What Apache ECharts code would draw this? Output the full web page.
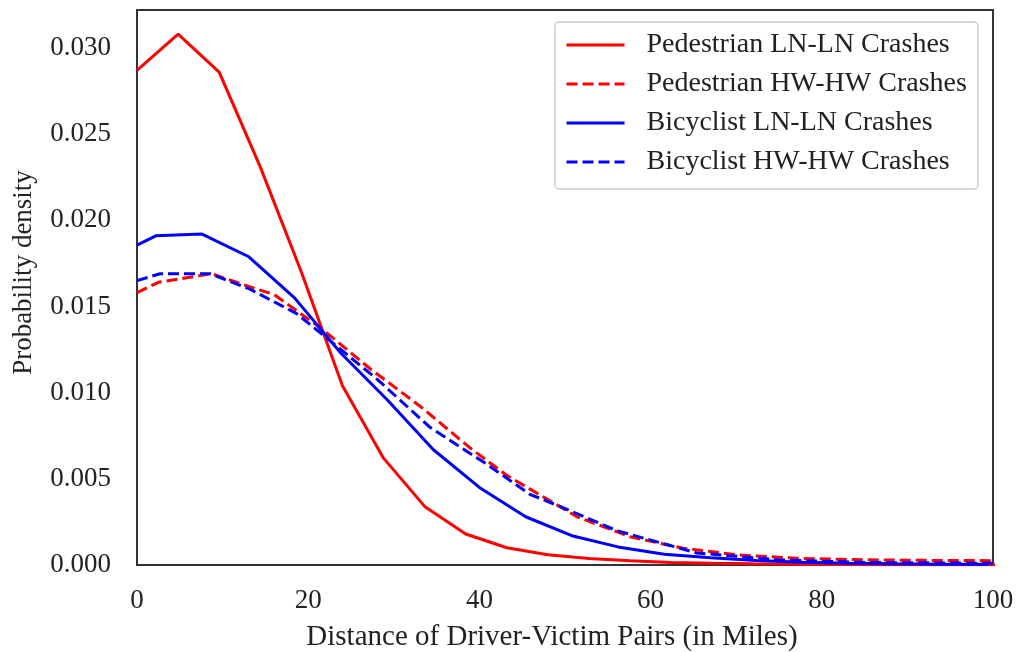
<!DOCTYPE html>
<html>
<head>
<meta charset="utf-8">
<script src="https://cdn.jsdelivr.net/npm/echarts@6/dist/echarts.min.js"></script>
<style>
  html, body { margin: 0; padding: 0; background: #fff; }
  #chart { width: 1016px; height: 652px; }
</style>
</head>
<body>
<div id="chart"></div>
<script>
// series names
var names = [
  "Pedestrian LN-LN Crashes",
  "Pedestrian HW-HW Crashes",
  "Bicyclist LN-LN Crashes",
  "Bicyclist HW-HW Crashes"
];

// Pedestrian LN-LN
var pedLnX = [0, 4.8, 9.6, 14.4, 19.2, 24, 28.8, 33.6, 38.4, 43.2, 48, 52.8, 57.6, 62.4, 67.2, 72, 76.8, 81.6, 86.4, 91.2, 96, 100.8];
var pedLnY = [0.0287, 0.0308, 0.0286, 0.0231, 0.0170, 0.0104, 0.0062, 0.0034, 0.0018, 0.0010, 0.0006, 0.00038, 0.00024, 0.00015, 0.0001, 0.00007, 0.00005, 0.00003, 0.00002, 0.00001, 0.00001, 0.00001];

// Pedestrian HW-HW
var pedHwX = [0, 2.5, 8.7, 13.4, 16, 21.6, 27.2, 33.1, 38.9, 43.2, 51.4, 57.6, 63.8, 70.4, 77.1, 85, 92, 100];
var pedHwY = [0.0158, 0.0164, 0.0169, 0.0161, 0.0157, 0.0137, 0.0114, 0.0092, 0.0068, 0.0052, 0.0028, 0.00164, 0.00097, 0.00058, 0.00039, 0.0003, 0.00027, 0.00025];

// Bicyclist LN-LN
var bicLnX = [0, 2.2, 7.6, 13.0, 18.4, 23.8, 29.2, 34.6, 40.0, 45.4, 50.8, 56.2, 61.6, 67.0, 72.4, 77.8, 83.2, 88.6, 94.0, 99.4];
var bicLnY = [0.01856, 0.0191, 0.0192, 0.0179, 0.0155, 0.0123, 0.0096, 0.0067, 0.0045, 0.0028, 0.0017, 0.00105, 0.00062, 0.00042, 0.00026, 0.00016, 0.0001, 0.00007, 0.00005, 0.00004];

// Bicyclist HW-HW
var bicHwX = [0, 2.7, 8.5, 13.2, 18.6, 21.6, 28, 34.2, 40.7, 45.9, 49.4, 56, 65.4, 75, 85, 100];
var bicHwY = [0.0165, 0.0169, 0.0169, 0.0160, 0.0146, 0.0134, 0.0108, 0.0080, 0.0059, 0.0041, 0.0034, 0.0020, 0.0007, 0.0003, 0.00015, 0.0001];

var font = "Liberation Serif";

function pairs(xs, ys) {
  return xs.map(function (x, i) { return [x, ys[i]]; });
}

function lineSeries(name, xs, ys, color, type) {
  return {
    name: name,
    type: "line",
    data: pairs(xs, ys),
    symbol: "none",
    clip: true,
    lineStyle: { color: color, width: 3, type: type === "dashed" ? [11, 5] : "solid" },
    itemStyle: { color: color }
  };
}

var myChart = echarts.init(document.getElementById("chart"));

var option = {
  animation: false,
  grid: {
    left: 137,
    top: 10,
    width: 856,
    height: 555,
    outerBoundsMode: "none",
    containLabel: false,
    show: true,
    borderColor: "#333",
    borderWidth: 2,
    backgroundColor: "#fff"
  },
  legend: {
    orient: "vertical",
    left: 555,
    top: 22,
    data: names,
    itemWidth: 58,
    itemHeight: 14,
    itemGap: 11,
    padding: [9, 11, 13, 10],
    backgroundColor: "#fff",
    borderColor: "#ccc",
    borderWidth: 1.5,
    borderRadius: 4,
    itemStyle: { opacity: 0 },
    lineStyle: { width: 3 },
    textStyle: {
      fontFamily: font,
      fontSize: 28,
      lineHeight: 28,
      color: "#222",
      padding: [0, 0, 0, 17]
    }
  },
  xAxis: {
    type: "value",
    min: 0,
    max: 100,
    interval: 20,
    name: "Distance of Driver-Victim Pairs (in Miles)",
    nameLocation: "middle",
    nameGap: 58,
    nameTextStyle: { fontFamily: font, fontSize: 29, color: "#222", padding: [0, 26, 0, 0] },
    axisLine: { show: true, lineStyle: { color: "#333", width: 2 } },
    axisTick: { show: false },
    splitLine: { show: false },
    axisLabel: { fontFamily: font, fontSize: 27, color: "#222", margin: 22 }
  },
  yAxis: {
    type: "value",
    min: 0,
    max: 0.0322,
    interval: 0.005,
    name: "Probability density",
    nameLocation: "middle",
    nameGap: 100,
    nameTextStyle: { fontFamily: font, fontSize: 27, color: "#222", padding: [0, 0, 0, 30] },
    axisLine: { show: true, lineStyle: { color: "#333", width: 2 } },
    axisTick: { show: false },
    splitLine: { show: false },
    axisLabel: {
      fontFamily: font,
      fontSize: 27,
      color: "#222",
      margin: 26,
      showMaxLabel: false,
      formatter: function (v) { return v.toFixed(3); }
    }
  },
  series: [
    lineSeries(names[0], pedLnX, pedLnY, "#ff0000", "solid"),
    lineSeries(names[1], pedHwX, pedHwY, "#ff0000", "dashed"),
    lineSeries(names[2], bicLnX, bicLnY, "#0000ff", "solid"),
    lineSeries(names[3], bicHwX, bicHwY, "#0000ff", "dashed")
  ]
};

myChart.setOption(option);
</script>
</body>
</html>
